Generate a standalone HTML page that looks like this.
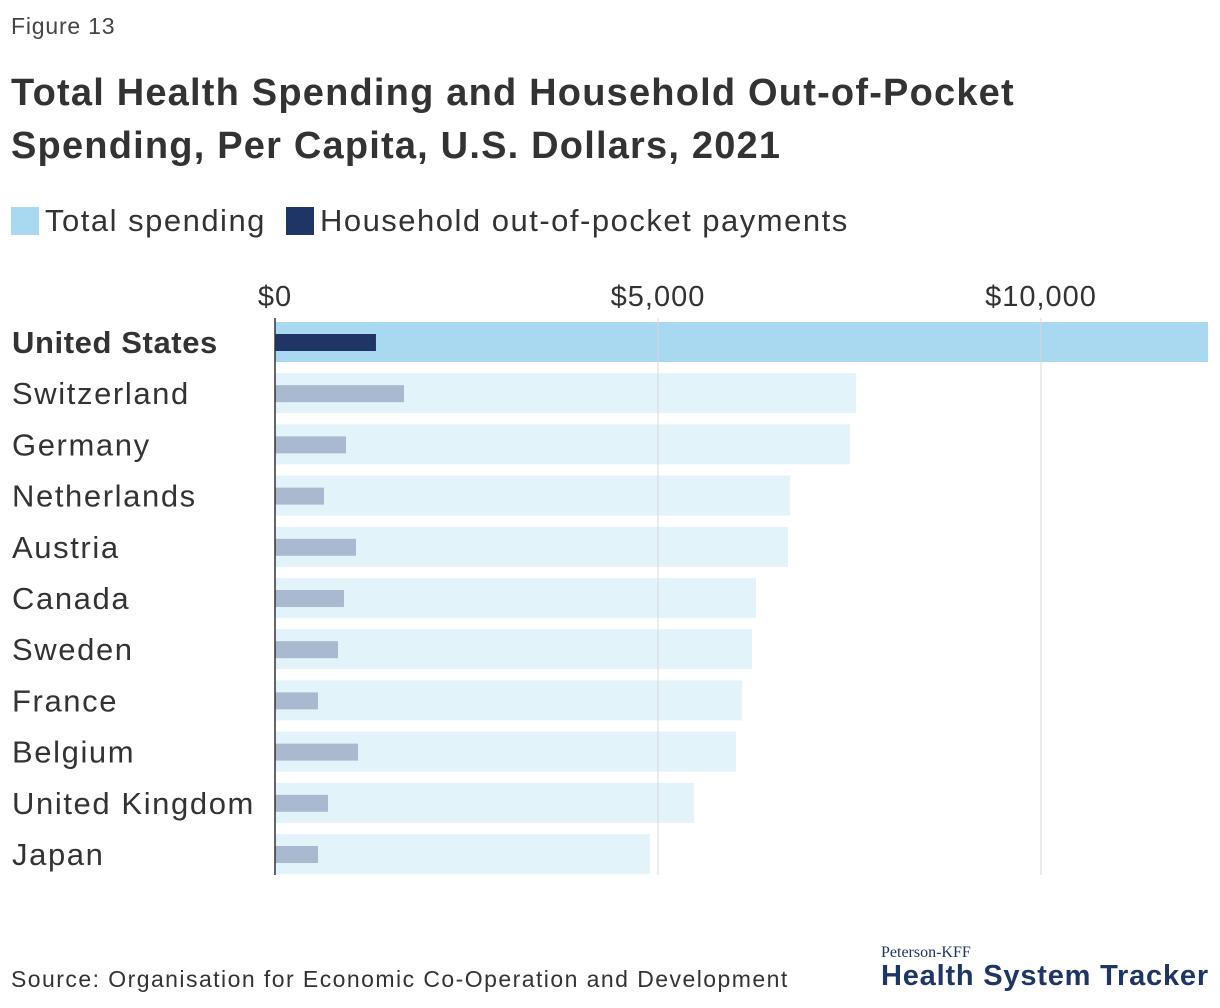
<!DOCTYPE html>
<html><head><meta charset="utf-8">
<style>
body{margin:0;width:1220px;height:1008px;background:#fff;font-family:"Liberation Sans",sans-serif;color:#333;overflow:hidden;position:relative}
.abs{position:absolute;margin:0}
</style></head><body>
<div class="abs" style="left:11px;top:13px;font-size:23px;color:#444;letter-spacing:0.8px">Figure 13</div>
<h1 class="abs" style="left:11px;top:67px;font-size:38px;line-height:53px;font-weight:bold;color:#333;letter-spacing:1.2px">Total Health Spending and Household Out-of-Pocket<br>Spending, Per Capita, U.S. Dollars, 2021</h1>
<div class="abs" style="left:11px;top:203px;font-size:31px;color:#333;display:flex;align-items:center;letter-spacing:1.5px">
<span style="display:flex;align-items:center"><span style="display:inline-block;width:28px;height:28px;background:#a9d9f1;margin-right:6px"></span>Total spending</span>
<span style="display:flex;align-items:center;margin-left:20px"><span style="display:inline-block;width:28px;height:28px;background:#1f3566;margin-right:6px"></span>Household out-of-pocket payments</span>
</div>
<svg id="chart" class="abs" style="left:0;top:0" width="1220" height="940"></svg>
<div class="abs" style="left:11px;top:966px;font-size:23px;color:#333;letter-spacing:1.45px">Source: Organisation for Economic Co-Operation and Development</div>
<div class="abs" style="left:881px;top:944px;color:#1f3566">
<div style="font-family:'Liberation Serif',serif;font-size:16px">Peterson-KFF</div>
<div style="font-size:29px;font-weight:bold;margin-top:-2px;letter-spacing:0.8px">Health System Tracker</div>
</div>
<script>
const categories=["United States","Switzerland","Germany","Netherlands","Austria","Canada","Sweden","France","Belgium","United Kingdom","Japan"];
const totalValues=[12180,7585,7507,6723,6697,6279,6227,6097,6018,5470,4896];
const oopValues=[1318,1684,927,640,1057,901,822,561,1084,692,561];
const tickValues=[0,5000,10000];
const tickLabels=["$0","$5,000","$10,000"];
const svg=document.getElementById('chart');
const NS='http://www.w3.org/2000/svg';
const x=v=>275+v*0.0766;
const y=i=>322+i*51.2;
function mk(t,a){const e=document.createElementNS(NS,t);for(const k in a)e.setAttribute(k,a[k]);svg.appendChild(e);return e;}
categories.forEach((c,i)=>{
 const us=i===0;
 const b=mk('rect',{x:x(0),y:y(i),width:x(totalValues[i])-x(0),height:40,fill:us?'#a9d9f1':'#e3f3fa'});
 
 
});
tickValues.forEach((v,i)=>{
 if(v>0){const g=mk('line',{x1:x(v),x2:x(v),y1:318,y2:875,stroke:'#d8d8d8','stroke-width':1});
 
 }
 const t=mk('text',{x:x(v),y:306,'text-anchor':'middle','font-size':29,fill:'#333','font-family':'Liberation Sans, sans-serif','letter-spacing':1});
 t.textContent=tickLabels[i];
 
 
});
categories.forEach((c,i)=>{
 const us=i===0;
 const b=mk('rect',{x:x(0),y:y(i)+12,width:x(oopValues[i])-x(0),height:17,fill:us?'#1f3566':'#a9b9cf'});
 
 
 const t=mk('text',{x:12,y:y(i)+31,'font-size':31,fill:'#333','font-weight':us?'bold':'normal','font-family':'Liberation Sans, sans-serif','letter-spacing':us?0.6:1.6});
 t.textContent=c;
 
 
});
const ax=mk('line',{x1:275,x2:275,y1:318,y2:875,stroke:'#333','stroke-width':1.5});


</script>
</body></html>
